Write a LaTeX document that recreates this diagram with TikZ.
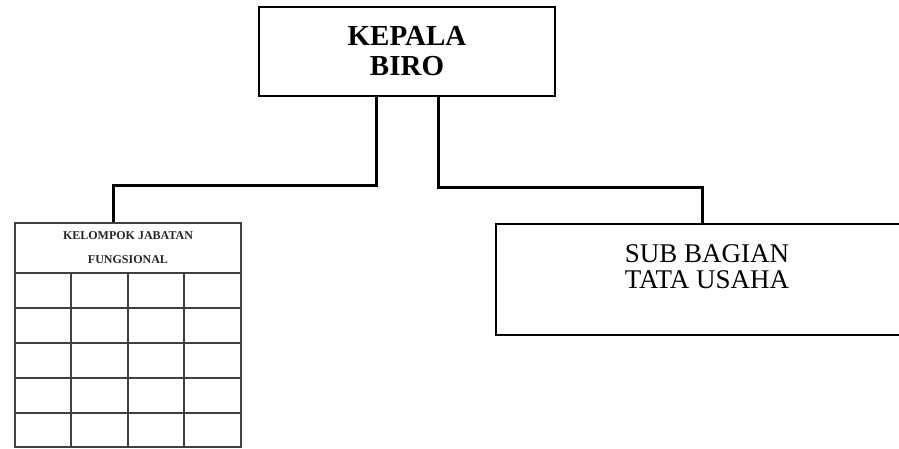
\documentclass[tikz,border=0pt]{standalone}
\usepackage{fontspec}
\setmainfont{Liberation Serif}
\usepackage{tikz}
\usetikzlibrary{positioning,calc}

\begin{document}
\begin{tikzpicture}[x=1pt,y=-1pt,
					kotak/.style={
						draw=black, line width=1.6pt, fill=white,
						inner sep=0pt, anchor=center
					},
					conn/.style={draw=black, line width=3pt},
					sel/.style={draw=black!75, line width=2pt}
					]
					\useasboundingbox (0,0) rectangle (899,449);
					\clip (0,0) rectangle (899,449);
					
					% kepala biro di atas
					\node[kotak, minimum width=296, minimum height=89, align=center,
						font=\fontsize{29}{30}\selectfont\bfseries] (kepala) at (407,51.5) {KEPALA\\BIRO};
					
					% kelompok fungsional kiri, kepala tabel
					\node[kotak, draw=black!75, line width=2pt, minimum width=226, minimum height=50,
						align=center, text=black!85,
						font=\fontsize{12}{24}\selectfont\bfseries] (fung) at (128,248) {KELOMPOK JABATAN\\FUNGSIONAL};
					
					% sub bagian tata usaha kanan (terpotong di tepi)
					\node[kotak, minimum width=422, minimum height=111] (tu) at (707,279.5) {};
					\node[align=center, font=\fontsize{27}{26}\selectfont] (tutext) at (707,267) {SUB BAGIAN\\TATA USAHA};
					
					% sel tabel di bawah kelompok fungsional
					\draw[sel] (15,273) rectangle (241,447);
					\foreach \y in {308,343,378,413}
						\draw[sel] (15,\y) -- (241,\y);
					\foreach \x in {71,128,184}
						\draw[sel] (\x,273) -- (\x,447);
					
					% garis penghubung
					\coordinate (kiri) at (113,186);
					\coordinate (kanan) at (702,188);
					\draw[conn] ([xshift=118pt]kepala.south west) |- (kiri) -- (kiri |- fung.north);
					\draw[conn] ([xshift=180pt]kepala.south west) |- (kanan) -- (kanan |- tu.north);
				\end{tikzpicture}
\end{document}
